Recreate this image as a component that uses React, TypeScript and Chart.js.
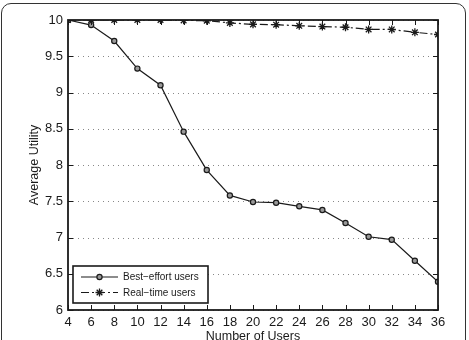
import React, { useEffect, useRef } from "react";
import { Chart, registerables } from "chart.js";

Chart.register(...registerables);

const users = [4, 6, 8, 10, 12, 14, 16, 18, 20, 22, 24, 26, 28, 30, 32, 34, 36];
const bestEffort = [10, 9.93, 9.71, 9.33, 9.1, 8.46, 7.93, 7.58, 7.49, 7.48, 7.43, 7.38, 7.2, 7.01, 6.97, 6.68, 6.39];
const realTime = [10, 10, 10, 10, 10, 9.995, 9.99, 9.96, 9.94, 9.935, 9.92, 9.91, 9.9, 9.87, 9.87, 9.83, 9.8];
const seriesNames = ["Best\u2212effort users", "Real\u2212time users"];
const xTitle = "Number of Users";
const yTitle = "Average Utility";

const FONT = "'Liberation Sans', Arial, Helvetica, sans-serif";
const INK = "#1a1a1a";
const RT_DASH = [8, 3, 2, 3];

function drawCircleMarker(ctx: CanvasRenderingContext2D, x: number, y: number) {
  ctx.beginPath();
  ctx.arc(x, y, 2.6, 0, Math.PI * 2);
  ctx.fillStyle = "#999";
  ctx.fill();
  ctx.lineWidth = 1.2;
  ctx.strokeStyle = INK;
  ctx.stroke();
}

function drawStarMarker(ctx: CanvasRenderingContext2D, x: number, y: number) {
  const r = 4;
  ctx.lineWidth = 1.3;
  ctx.strokeStyle = INK;
  ctx.beginPath();
  for (let k = 0; k < 4; k++) {
    const ang = (k * Math.PI) / 4;
    ctx.moveTo(x + Math.sin(ang) * r, y - Math.cos(ang) * r);
    ctx.lineTo(x - Math.sin(ang) * r, y + Math.cos(ang) * r);
  }
  ctx.stroke();
}

const decorPlugin = {
  id: "decor",
  beforeDatasetsDraw(chart: any) {
    const { ctx, chartArea: a, scales } = chart;
    const y = scales.y;
    ctx.save();
    ctx.strokeStyle = "#888";
    ctx.lineWidth = 1;
    ctx.setLineDash([1, 4]);
    y.ticks.forEach((t: any) => {
      const py = Math.round(y.getPixelForValue(t.value)) + 0.5;
      ctx.beginPath();
      ctx.moveTo(a.left, py);
      ctx.lineTo(a.right, py);
      ctx.stroke();
    });
    ctx.restore();
  },
  afterDatasetsDraw(chart: any) {
    const { ctx, chartArea: a, scales } = chart;
    const x = scales.x;
    const y = scales.y;
    ctx.save();
    ctx.strokeStyle = INK;
    ctx.lineWidth = 1;
    ctx.setLineDash([]);
    const tl = 5;
    x.ticks.forEach((t: any) => {
      const px = Math.round(x.getPixelForValue(t.value)) + 0.5;
      ctx.beginPath();
      ctx.moveTo(px, a.bottom);
      ctx.lineTo(px, a.bottom - tl);
      ctx.moveTo(px, a.top);
      ctx.lineTo(px, a.top + tl);
      ctx.stroke();
    });
    y.ticks.forEach((t: any) => {
      const py = Math.round(y.getPixelForValue(t.value)) + 0.5;
      ctx.beginPath();
      ctx.moveTo(a.left, py);
      ctx.lineTo(a.left + tl, py);
      ctx.moveTo(a.right, py);
      ctx.lineTo(a.right - tl, py);
      ctx.stroke();
    });
    ctx.lineWidth = 1.8;
    ctx.strokeRect(a.left, a.top, a.right - a.left, a.bottom - a.top);

    // axis titles
    ctx.fillStyle = INK;
    ctx.font = `12.5px ${FONT}`;
    ctx.textAlign = "center";
    ctx.textBaseline = "middle";
    ctx.fillText(xTitle, (a.left + a.right) / 2, 337);
    ctx.save();
    ctx.translate(35, (a.top + a.bottom) / 2);
    ctx.rotate(-Math.PI / 2);
    ctx.fillText(yTitle, 0, 0);
    ctx.restore();

    // legend
    const lx = 73, ly = 266, lw = 135, lh = 37;
    ctx.fillStyle = "#fff";
    ctx.fillRect(lx, ly, lw, lh);
    ctx.lineWidth = 1.6;
    ctx.strokeStyle = INK;
    ctx.strokeRect(lx, ly, lw, lh);
    const rows = [277, 292.5];
    rows.forEach((ry, i) => {
      ctx.lineWidth = 1.2;
      ctx.strokeStyle = INK;
      ctx.setLineDash(i === 0 ? [] : RT_DASH);
      ctx.beginPath();
      ctx.moveTo(81, ry);
      ctx.lineTo(118, ry);
      ctx.stroke();
      ctx.setLineDash([]);
      if (i === 0) drawCircleMarker(ctx, 99.5, ry);
      else drawStarMarker(ctx, 99.5, ry);
      ctx.fillStyle = INK;
      ctx.font = `10px ${FONT}`;
      ctx.textAlign = "left";
      ctx.textBaseline = "middle";
      ctx.fillText(seriesNames[i], 123, ry + 0.5);
    });
    ctx.restore();
  },
};

export default function App() {
  const ref = useRef<HTMLCanvasElement | null>(null);
  useEffect(() => {
    if (!ref.current) return;
    const chart = new Chart(ref.current, {
      type: "line",
      data: {
        datasets: [
          {
            label: seriesNames[0],
            data: users.map((u, i) => ({ x: u, y: bestEffort[i] })),
            borderColor: INK,
            borderWidth: 1.2,
            pointStyle: "circle",
            pointRadius: 2.6,
            pointBorderWidth: 1.2,
            pointBackgroundColor: "#999",
            pointBorderColor: INK,
            tension: 0,
          },
          {
            label: seriesNames[1],
            data: users.map((u, i) => ({ x: u, y: realTime[i] })),
            borderColor: INK,
            borderWidth: 1.2,
            borderDash: RT_DASH,
            pointStyle: "star",
            pointRadius: 4,
            pointBorderWidth: 1.3,
            pointBackgroundColor: INK,
            pointBorderColor: INK,
            tension: 0,
          },
        ],
      },
      options: {
        responsive: false,
        animation: false,
        devicePixelRatio: 1,
        layout: { padding: { top: 20, right: 31, bottom: 0, left: 0 } },
        plugins: { legend: { display: false }, tooltip: { enabled: false } },
        scales: {
          x: {
            type: "linear",
            min: 4,
            max: 36,
            ticks: { stepSize: 2, color: INK, font: { family: FONT, size: 13 }, padding: 5, maxRotation: 0, autoSkip: false },
            grid: { display: false, drawTicks: false },
            border: { display: false },
            afterFit: (s: any) => {
              s.height = 30;
            },
          },
          y: {
            type: "linear",
            min: 6,
            max: 10,
            ticks: {
              stepSize: 0.5,
              color: INK,
              font: { family: FONT, size: 13 },
              padding: 5,
              callback: (v: any) => String(Math.round(Number(v) * 10) / 10),
            },
            grid: { display: false, drawTicks: false },
            border: { display: false },
            afterFit: (s: any) => {
              s.width = 68;
            },
          },
        },
      },
      plugins: [decorPlugin],
    } as any);
    return () => chart.destroy();
  }, []);
  return (
    <div style={{ position: "fixed", left: 0, top: 0, width: 469, height: 340, overflow: "hidden", background: "#fff" }}>
      <canvas ref={ref} width={469} height={340} style={{ display: "block", width: 469, height: 340 }} />
      <div
        style={{
          position: "absolute",
          left: 1,
          top: 3,
          width: 463,
          height: 360,
          border: "1.5px solid #333",
          borderRadius: 10,
          pointerEvents: "none",
        }}
      />
    </div>
  );
}
